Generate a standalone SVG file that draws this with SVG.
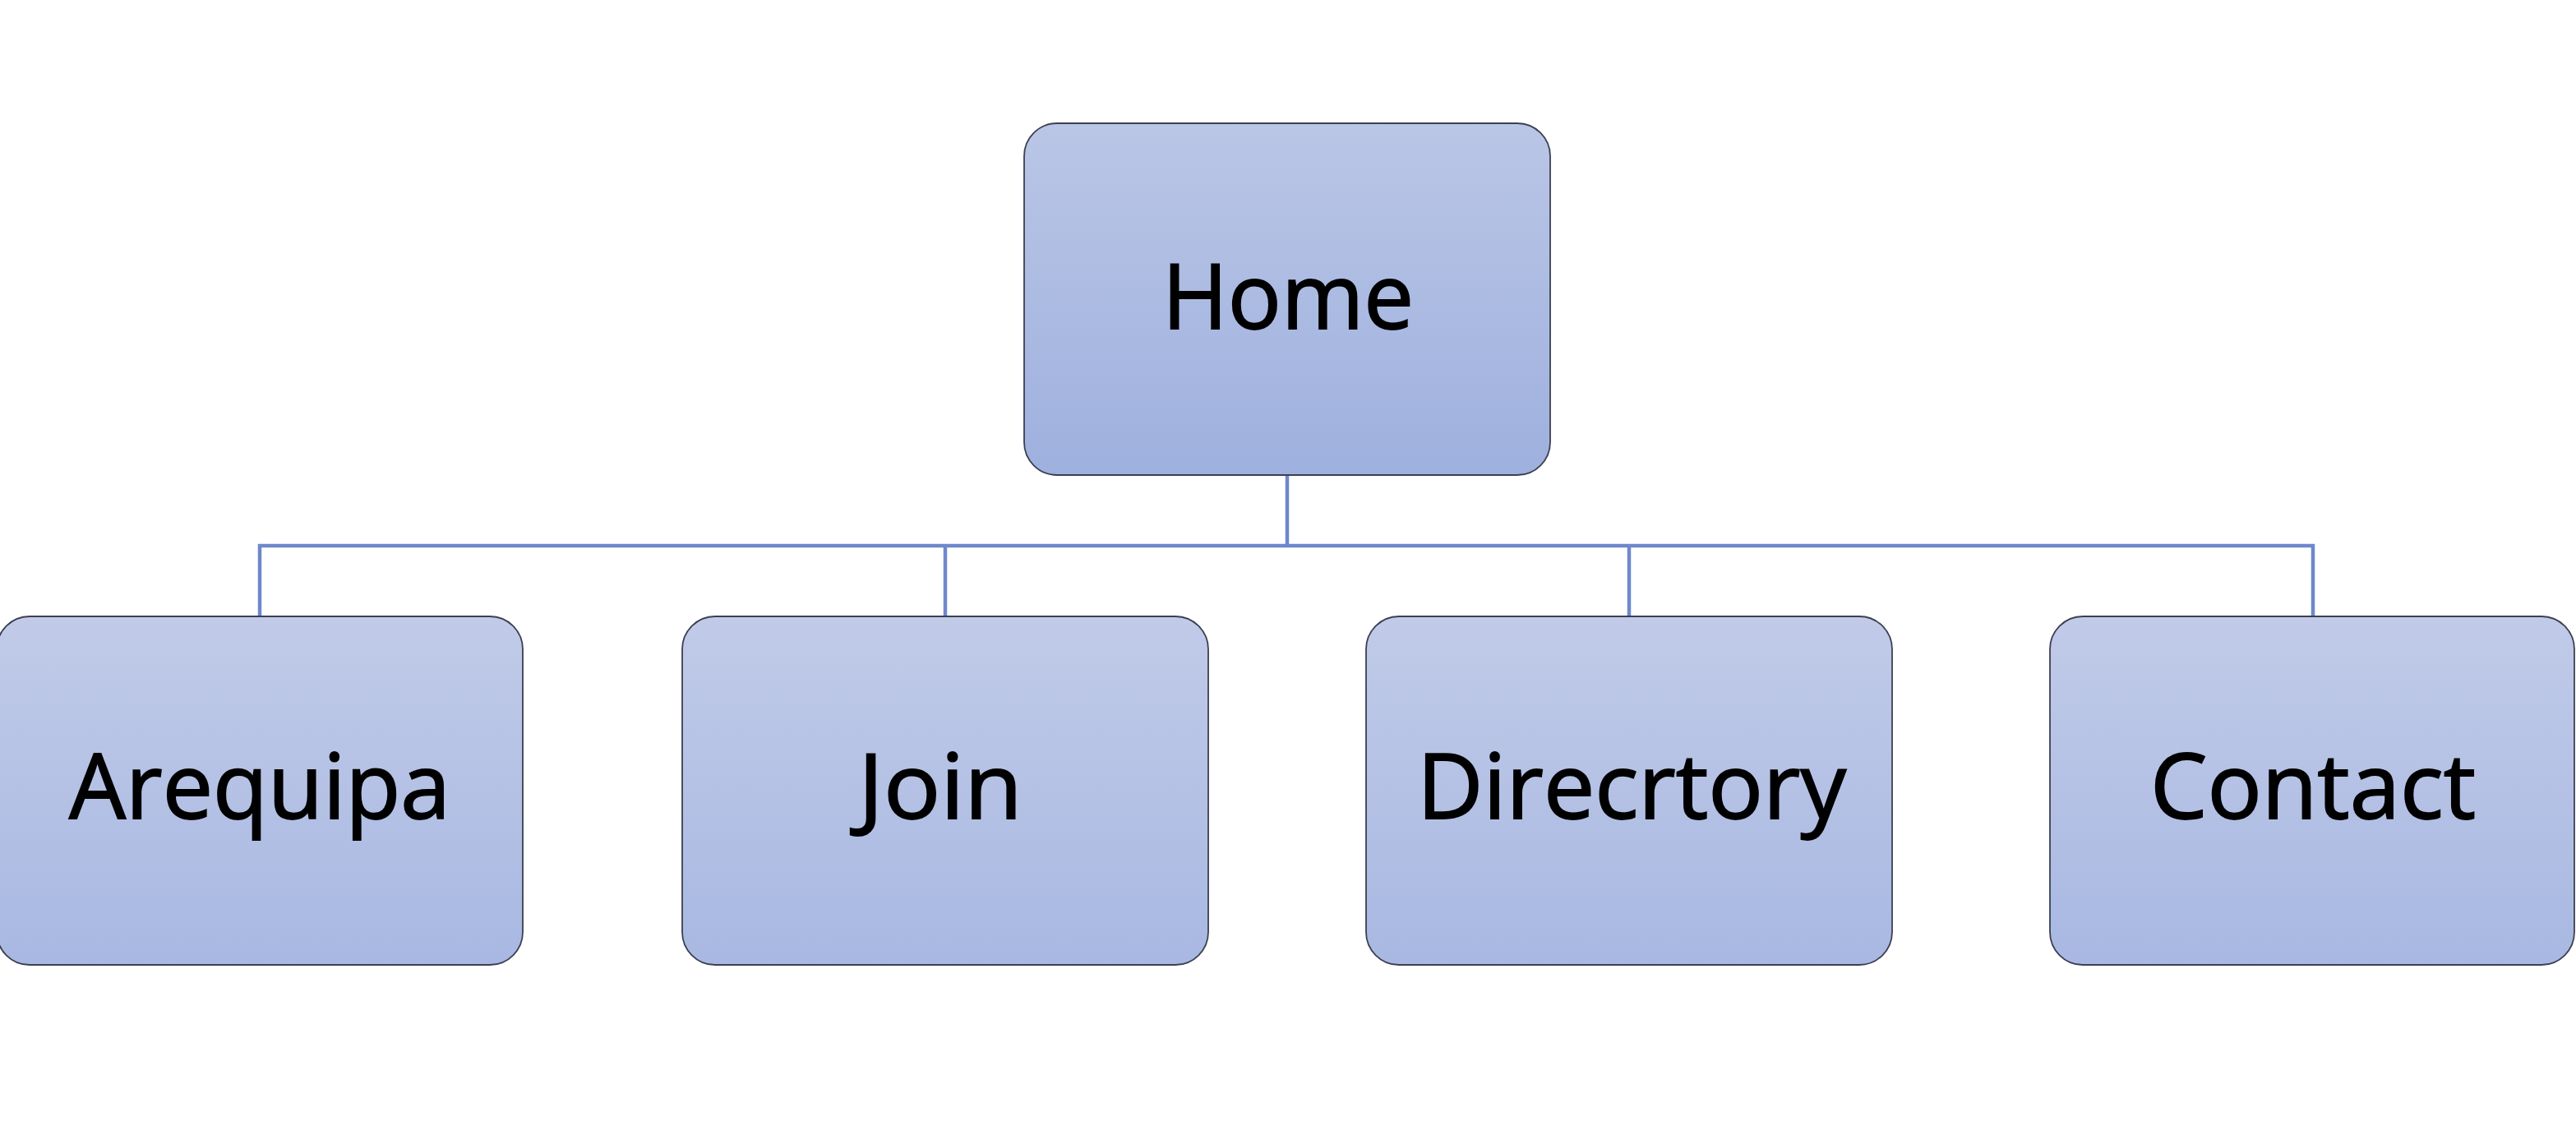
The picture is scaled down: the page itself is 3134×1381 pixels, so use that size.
<svg xmlns="http://www.w3.org/2000/svg" width="3134" height="1381" viewBox="0 0 3134 1381">
<defs>
<linearGradient id="gHome" x1="0" y1="0" x2="0" y2="1">
<stop offset="0" stop-color="#bac6e6"/>
<stop offset="1" stop-color="#9eb0de"/>
</linearGradient>
<linearGradient id="gChild" x1="0" y1="0" x2="0" y2="1">
<stop offset="0" stop-color="#c1cbe8"/>
<stop offset="1" stop-color="#a8b8e2"/>
</linearGradient>
<style>
.box{stroke:#3c3f52;stroke-width:1.8}
.home{fill:url(#gHome)}
.child{fill:url(#gChild)}
.lbl{font-family:"Open Sans","Noto Sans","Liberation Sans",sans-serif;font-size:110px;fill:#000;stroke:#000;stroke-width:1.8;text-anchor:middle}
.conn{fill:none;stroke:#6f88cc;stroke-width:4.5}
</style>
</defs>
<rect width="3134" height="1381" fill="#ffffff"/>
<g id="connectors">
<path class="conn" d="M1566 578 V664"/>
<path class="conn" d="M316 750 V664 H2814 V750"/>
<path class="conn" d="M1150 664 V750"/>
<path class="conn" d="M1982 664 V750"/>
</g>
<g id="home">
<rect class="box home" x="1246" y="150" width="640" height="428" rx="40"/>
<text class="lbl" x="1567" y="400" textLength="306" lengthAdjust="spacingAndGlyphs">Home</text>
</g>
<g id="arequipa">
<rect class="box child" x="-4" y="750" width="640" height="424" rx="40"/>
<text class="lbl" x="316" y="996" textLength="464" lengthAdjust="spacingAndGlyphs">Arequipa</text>
</g>
<g id="join">
<rect class="box child" x="830" y="750" width="640" height="424" rx="40"/>
<text class="lbl" x="1144" y="996" textLength="200" lengthAdjust="spacingAndGlyphs">Join</text>
</g>
<g id="directory">
<rect class="box child" x="1662" y="750" width="640" height="424" rx="40"/>
<text class="lbl" x="1985" y="996" textLength="522" lengthAdjust="spacingAndGlyphs">Direcrtory</text>
</g>
<g id="contact">
<rect class="box child" x="2494" y="750" width="638" height="424" rx="40"/>
<text class="lbl" x="2814" y="996" textLength="396" lengthAdjust="spacingAndGlyphs">Contact</text>
</g>
</svg>
